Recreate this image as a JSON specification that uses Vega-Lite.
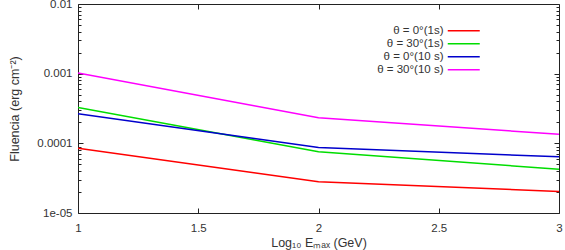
{
  "$schema": "https://vega.github.io/schema/vega-lite/v6.json",
  "autosize": "none",
  "width": 481,
  "height": 209,
  "padding": {"left": 78, "top": 4, "right": 6, "bottom": 37},
  "background": "white",
  "config": {
    "view": {"stroke": "#222", "strokeWidth": 1},
    "font": "Liberation Sans",
    "axis": {
      "domain": false, "grid": false, "tickColor": "#222", "labelColor": "#333", "titleColor": "#333",
      "labelFont": "Liberation Sans", "titleFont": "Liberation Sans", "labelFontSize": 11.5, "titleFontSize": 12.5,
      "titleFontWeight": "normal", "labelOverlap": false, "labelFlush": false
    }
  },
  "data": {
    "values": [
      {"e": 1, "f": 0.000085, "s": "θ = 0°(1s)"},
      {"e": 2, "f": 0.000028, "s": "θ = 0°(1s)"},
      {"e": 3, "f": 0.0000204, "s": "θ = 0°(1s)"},
      {"e": 1, "f": 0.000327, "s": "θ = 30°(1s)"},
      {"e": 2, "f": 0.000076, "s": "θ = 30°(1s)"},
      {"e": 3, "f": 0.0000425, "s": "θ = 30°(1s)"},
      {"e": 1, "f": 0.000265, "s": "θ = 0°(10 s)"},
      {"e": 2, "f": 0.000087, "s": "θ = 0°(10 s)"},
      {"e": 3, "f": 0.000064, "s": "θ = 0°(10 s)"},
      {"e": 1, "f": 0.00102, "s": "θ = 30°(10 s)"},
      {"e": 2, "f": 0.000233, "s": "θ = 30°(10 s)"},
      {"e": 3, "f": 0.000135, "s": "θ = 30°(10 s)"}
    ]
  },
  "layer": [
    {
      "mark": {"type": "line", "strokeWidth": 1.5, "clip": true},
      "encoding": {
        "x": {"field": "e", "type": "quantitative",
          "scale": {"domain": [1, 3], "nice": false, "zero": false},
          "axis": {"orient": "bottom", "values": [1, 1.5, 2, 2.5, 3], "format": "~g", "tickSize": -5, "labelPadding": 14, "title": "Log₁₀ Eₘₐₓ (GeV)", "titlePadding": 3}},
        "y": {"field": "f", "type": "quantitative",
          "scale": {"type": "log", "domain": [0.00001, 0.01], "nice": false},
          "axis": {"orient": "left", "values": [0.00001, 0.0001, 0.001, 0.01], "tickSize": -5, "labelPadding": 11,
            "labelExpr": "datum.value < 0.00002 ? '1e-05' : datum.value < 0.0002 ? '0.0001' : datum.value < 0.002 ? '0.001' : '0.01'",
            "title": "Fluencia (erg cm⁻²)", "titlePadding": 15}},
        "color": {"field": "s", "type": "nominal",
          "scale": {"domain": ["θ = 0°(1s)", "θ = 30°(1s)", "θ = 0°(10 s)", "θ = 30°(10 s)"], "range": ["#ff0000", "#00dd00", "#0000cc", "#ff00ff"]},
          "legend": {"orient": "none", "legendX": 380, "legendY": 21, "title": null, "padding": 0,
            "symbolType": "M-4,0H4", "symbolSize": 64, "symbolStrokeWidth": 1.5,
            "labelAlign": "right", "labelOffset": -26, "labelFontSize": 11.5, "labelColor": "#333", "labelFont": "Liberation Sans", "rowPadding": 0}}
      }
    },
    {
      "mark": {"type": "point", "opacity": 0},
      "encoding": {
        "x": {"field": "e", "type": "quantitative",
          "axis": {"orient": "top", "values": [1.5, 2, 2.5], "labels": false, "tickSize": -5, "title": null}},
        "y": {"field": "f", "type": "quantitative",
          "axis": {"orient": "right", "values": [0.00001, 0.0001, 0.001, 0.01], "labels": false, "tickSize": -5, "title": null}}
      }
    },
    {
      "mark": {"type": "point", "opacity": 0},
      "encoding": {
        "y": {"field": "f", "type": "quantitative",
          "axis": {"orient": "left", "values": [0.00002, 0.00003, 0.00004, 0.00005, 0.00006, 0.00007, 0.00008, 0.00009, 0.0002, 0.0003, 0.0004, 0.0005, 0.0006, 0.0007, 0.0008, 0.0009, 0.002, 0.003, 0.004, 0.005, 0.006, 0.007, 0.008, 0.009], "labels": false, "tickSize": -3, "title": null}}
      }
    },
    {
      "mark": {"type": "point", "opacity": 0},
      "encoding": {
        "y": {"field": "f", "type": "quantitative",
          "axis": {"orient": "right", "values": [0.00002, 0.00003, 0.00004, 0.00005, 0.00006, 0.00007, 0.00008, 0.00009, 0.0002, 0.0003, 0.0004, 0.0005, 0.0006, 0.0007, 0.0008, 0.0009, 0.002, 0.003, 0.004, 0.005, 0.006, 0.007, 0.008, 0.009], "labels": false, "tickSize": -3, "title": null}}
      }
    }
  ]
}
